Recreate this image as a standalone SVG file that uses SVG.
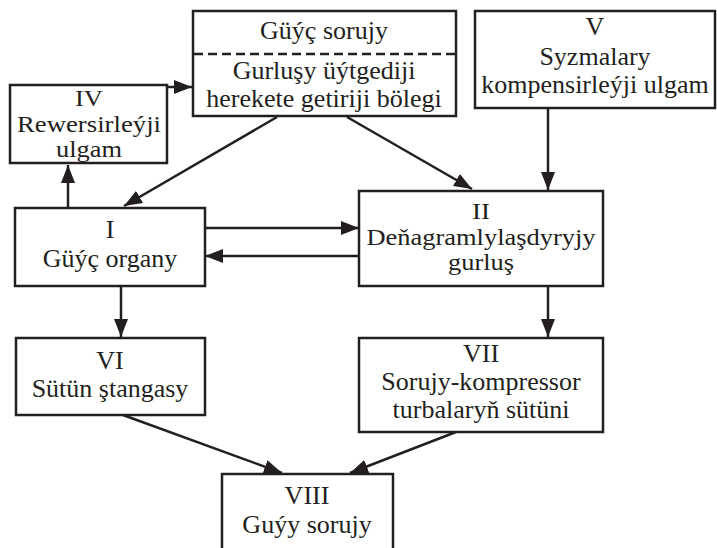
<svg xmlns="http://www.w3.org/2000/svg" width="717" height="548" viewBox="0 0 717 548">
  <style>
    .box { fill: #ffffff; stroke: #231f20; stroke-width: 2.5; }
    .lbl { font-family: "Liberation Serif", "Times New Roman", serif; font-size: 26px; fill: #231f20; text-anchor: middle; }
    .tight { font-size: 23px; }
    .wire { fill: none; stroke: #231f20; stroke-width: 2.5; marker-end: url(#head); }
    .dash { stroke: #231f20; stroke-width: 2.5; stroke-dasharray: 9 5; }
  </style>
  <defs>
    <marker id="head" markerUnits="userSpaceOnUse" markerWidth="18" markerHeight="14" refX="18" refY="7" orient="auto">
      <path d="M0,0 L18,7 L0,14 z" fill="#231f20"/>
    </marker>
  </defs>
  <rect width="717" height="548" fill="#ffffff"/>

  <g id="connectors">
    <line class="wire" x1="68" y1="207" x2="68" y2="165"/>
    <line class="wire" x1="168" y1="87" x2="192" y2="87"/>
    <line class="wire" x1="277" y1="117" x2="124" y2="206"/>
    <line class="wire" x1="347" y1="117" x2="472" y2="189"/>
    <line class="wire" x1="548" y1="108" x2="548" y2="190"/>
    <line class="wire" x1="205" y1="228" x2="359" y2="228"/>
    <line class="wire" x1="359" y1="256" x2="205" y2="256"/>
    <line class="wire" x1="121" y1="286" x2="121" y2="337"/>
    <line class="wire" x1="548" y1="286" x2="548" y2="337"/>
    <line class="wire" x1="123" y1="415" x2="282" y2="473"/>
    <line class="wire" x1="456" y1="432" x2="350" y2="473"/>
  </g>

  <g id="node-top">
    <rect class="box" x="193" y="11" width="263" height="105"/>
    <line class="dash" x1="194" y1="54" x2="455" y2="54"/>
    <text class="lbl" x="324" y="39">Güýç sorujy</text>
    <text class="lbl" x="324" y="79">Gurluşy üýtgediji</text>
    <text class="lbl" x="324" y="107">herekete getiriji bölegi</text>
  </g>

  <g id="node-IV">
    <rect class="box" x="10" y="85" width="157" height="78"/>
    <text class="lbl tight" x="89" y="106" textLength="28" lengthAdjust="spacingAndGlyphs">IV</text>
    <text class="lbl tight" x="89" y="132" textLength="144" lengthAdjust="spacingAndGlyphs">Rewersirleýji</text>
    <text class="lbl tight" x="89" y="157" textLength="66" lengthAdjust="spacingAndGlyphs">ulgam</text>
  </g>

  <g id="node-V">
    <rect class="box" x="475" y="11" width="240" height="97"/>
    <text class="lbl" x="595" y="35">V</text>
    <text class="lbl" x="595" y="65">Syzmalary</text>
    <text class="lbl" x="595" y="93">kompensirleýji ulgam</text>
  </g>

  <g id="node-I">
    <rect class="box" x="15" y="208" width="190" height="78"/>
    <text class="lbl" x="110" y="238">I</text>
    <text class="lbl" x="110" y="267">Güýç organy</text>
  </g>

  <g id="node-II">
    <rect class="box" x="359" y="191" width="244" height="95"/>
    <text class="lbl tight" x="481" y="219" textLength="18" lengthAdjust="spacingAndGlyphs">II</text>
    <text class="lbl tight" x="481" y="245" textLength="229" lengthAdjust="spacingAndGlyphs">Deňagramlylaşdyryjy</text>
    <text class="lbl tight" x="481" y="270" textLength="66" lengthAdjust="spacingAndGlyphs">gurluş</text>
  </g>

  <g id="node-VI">
    <rect class="box" x="16" y="338" width="189" height="77"/>
    <text class="lbl" x="110" y="369">VI</text>
    <text class="lbl" x="110" y="397">Sütün ştangasy</text>
  </g>

  <g id="node-VII">
    <rect class="box" x="359" y="338" width="244" height="94"/>
    <text class="lbl" x="481" y="362">VII</text>
    <text class="lbl" x="481" y="390">Sorujy-kompressor</text>
    <text class="lbl" x="481" y="418">turbalaryň sütüni</text>
  </g>

  <g id="node-VIII">
    <rect class="box" x="222" y="474" width="171" height="80"/>
    <text class="lbl" x="307" y="504">VIII</text>
    <text class="lbl" x="307" y="533">Guýy sorujy</text>
  </g>
</svg>
